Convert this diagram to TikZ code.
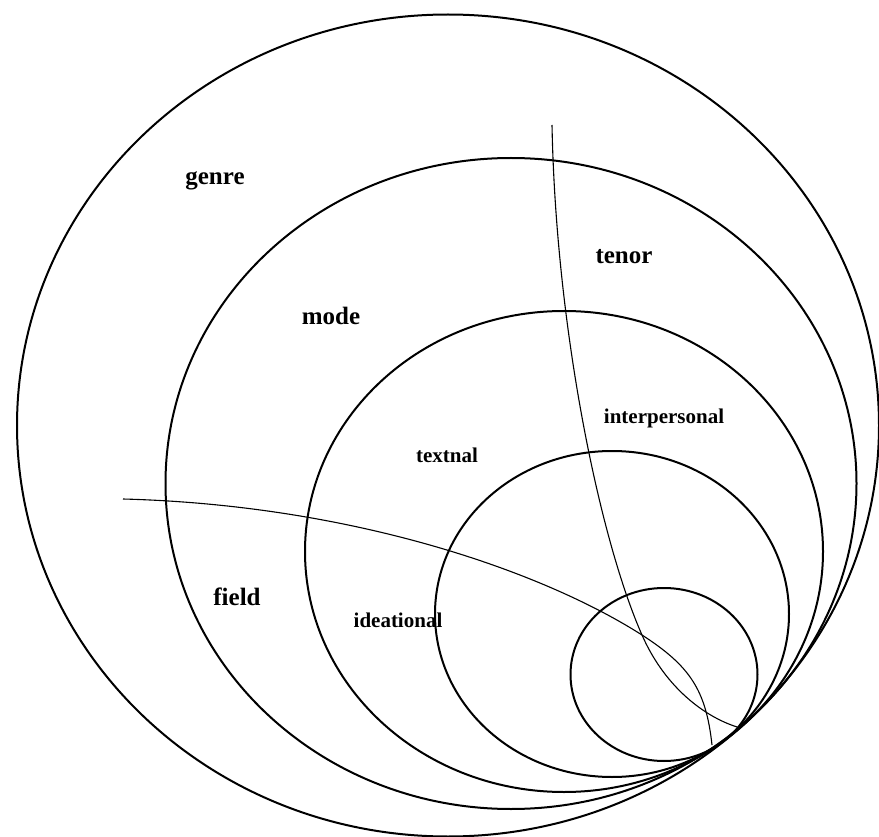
\documentclass[tikz,border=0pt]{standalone}
\usepackage{fontspec}
\setmainfont{Liberation Serif}
\usepackage{tikz}

\begin{document}
\begin{tikzpicture}[x=1pt,y=-1pt,
    ring/.style={line width=2pt},
    strand/.style={line width=1.1pt},
    biglabel/.style={anchor=base,font=\fontsize{25}{30}\selectfont\bfseries},
    smalllabel/.style={anchor=base,font=\fontsize{21}{25}\selectfont\bfseries}]
  \useasboundingbox (0,0) rectangle (879,837);

  % nested rings, all touching at the lower right
  \draw[ring] (448,425.5) ellipse [x radius=431, y radius=411];
  \draw[ring] (511,483.5) ellipse [x radius=345.5, y radius=325.5];
  \draw[ring] (564,551.5) ellipse [x radius=259, y radius=240.5];
  \draw[ring] (612,614) ellipse [x radius=177, y radius=163];
  \draw[ring] (664,674.5) ellipse [x radius=93.5, y radius=86.5];

  % the two strands cross at (642,635)
  \coordinate (cross) at (642,635);
  % tenor strand
  \draw[strand] (552,125) .. controls (556,330) and (600,540) .. (cross)
    .. controls (663,683) and (700,715) .. (737,727);
  % field strand
  \draw[strand] (123,499) .. controls (350,505) and (540,570) .. (cross)
    .. controls (690,666) and (706,690) .. (712,745);

  \node[biglabel] (genre) at (215,185) {genre};
  \node[biglabel] (mode) at (331,324) {mode};
  \node[biglabel] (tenor) at (624,264) {tenor};
  \node[biglabel] (field) at (237,605) {field};
  \node[smalllabel] (textual) at (447,462) {textnal};
  \node[smalllabel] (interpersonal) at (664,423) {interpersonal};
  \node[smalllabel] (ideational) at (398,627) {ideational};
\end{tikzpicture}
\end{document}
